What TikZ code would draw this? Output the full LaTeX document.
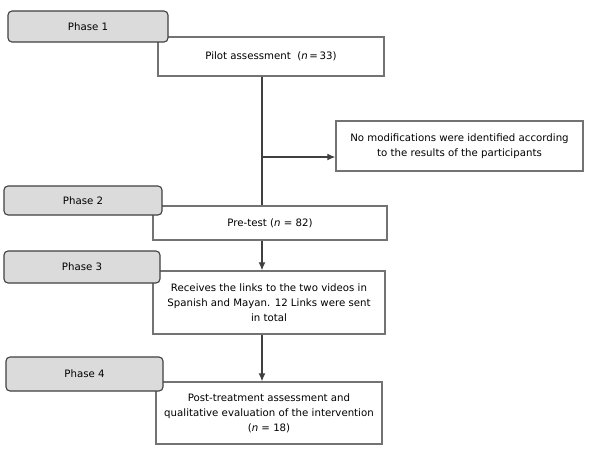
\documentclass[tikz,border=0pt]{standalone}
\usepackage{fontspec}
\setmainfont{DejaVu Sans}
\usetikzlibrary{arrows.meta}
\begin{document}
\begin{tikzpicture}[x=1pt,y=-1pt,
    phasebox/.style={draw=black!75,fill=black!14,rounded corners=4pt,line width=1.1pt,inner sep=0pt},
    stepbox/.style={draw=black!55,fill=white,line width=1.4pt,align=center,inner sep=0pt},
    link/.style={draw=black!75,line width=1.2pt},
    font=\fontsize{10.2}{15}\selectfont]
    \useasboundingbox[fill=white] (0,0) rectangle (590,450);
    % content boxes
    \node[stepbox,minimum width=226pt,minimum height=39pt] (pilot) at (271,56.5) {Pilot assessment~~(\textit{n}\,=\,33)};
    \node[stepbox,minimum width=247pt,minimum height=50pt] (nomod) at (459.5,146) {No modifications were identified according\\to the results of the participants};
    \node[stepbox,minimum width=234pt,minimum height=34pt] (pre) at (270,223) {Pre-test (\textit{n} = 82)};
    \node[stepbox,minimum width=232pt,minimum height=63pt] (recv) at (269,302.5) {Receives the links to the two videos in\\Spanish and Mayan. 12 Links were sent\\in total};
    \node[stepbox,minimum width=226pt,minimum height=62pt] (post) at (269,413) {Post-treatment assessment and\\qualitative evaluation of the intervention\\(\textit{n} = 18)};
    % phase labels on top
    \node[phasebox,minimum width=160pt,minimum height=31pt] (ph1) at (88,26.5) {Phase 1};
    \node[phasebox,minimum width=158pt,minimum height=29pt] (ph2) at (83,200.5) {Phase 2};
    \node[phasebox,minimum width=156pt,minimum height=32pt] (ph3) at (82,267) {Phase 3};
    \node[phasebox,minimum width=157pt,minimum height=34pt] (ph4) at (84.5,374) {Phase 4};
    % connectors
    \coordinate (split) at (262,157);
    \draw[link] (pilot.south -| split) -- (pre.north -| split);
    \draw[link,-{Latex[length=8pt,width=7pt]}] (split) -- (split -| nomod.west);
    \draw[link,-{Latex[length=8pt,width=7pt]}] (pre.south -| split) -- (recv.north -| split);
    \draw[link,-{Latex[length=8pt,width=7pt]}] (recv.south -| split) -- (post.north -| split);
\end{tikzpicture}
\end{document}
